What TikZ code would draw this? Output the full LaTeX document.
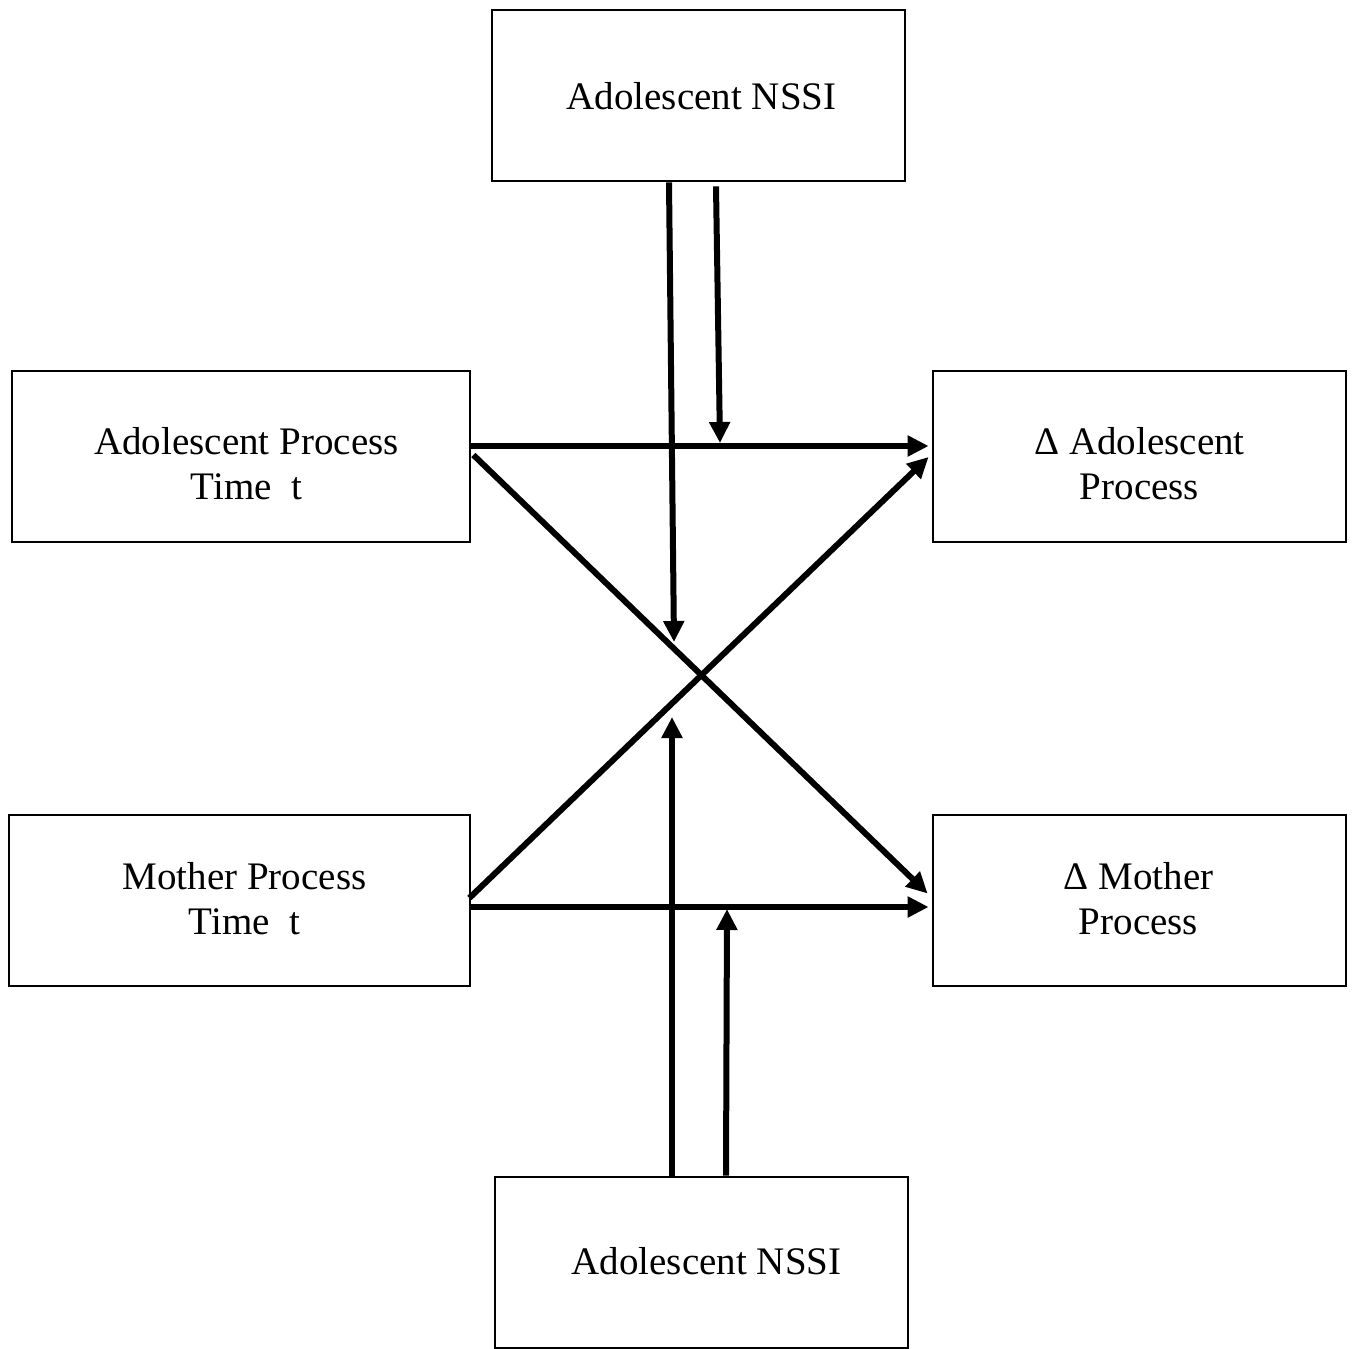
\documentclass[tikz,border=0pt]{standalone}
\usepackage{fontspec}
\setmainfont{Liberation Serif}
\usetikzlibrary{arrows.meta,calc}
\tikzset{
  boxnode/.style={draw=black, line width=2.8pt, rectangle, inner sep=0pt, minimum height=171pt},
  txt/.style={inner sep=0pt, align=center, font=\fontsize{39}{45}\selectfont},
  arr/.style={line width=6pt, -{Triangle[length=21pt,width=20pt]}},
}
\begin{document}
\begin{tikzpicture}[x=1pt,y=-1pt]
\useasboundingbox (0,0) rectangle (1353,1349);
\node[boxnode, minimum width=413pt] (nssiT) at (698.5,95.5) {};
\node[boxnode, minimum width=458pt] (adoT) at (241,456.5) {};
\node[boxnode, minimum width=413pt] (dAdo) at (1139.5,456.5) {};
\node[boxnode, minimum width=461pt] (momT) at (239.5,900.5) {};
\node[boxnode, minimum width=413pt] (dMom) at (1139.5,900.5) {};
\node[boxnode, minimum width=413pt] (nssiB) at (701.5,1262.5) {};
% texts
\node[txt] (nssiTtext) at ($(nssiT.center)+(3,1)$) {Adolescent NSSI};
\node[txt] (adoTtext) at ($(adoT.center)+(5.5,7)$) {Adolescent Process\\Time\ \ t};
\node[txt] (dAdotext) at ($(dAdo.center)+(0,7)$) {Δ Adolescent\\Process};
\node[txt] (momTtext) at ($(momT.center)+(5,-2)$) {Mother Process\\Time\ \ t};
\node[txt] (dMomtext) at ($(dMom.center)+(-1,-2)$) {Δ Mother\\Process};
\node[txt] (nssiBtext) at ($(nssiB.center)+(5,-1)$) {Adolescent NSSI};
% target points
\coordinate (t1) at (674,642);
\coordinate (t2) at (720,443);
\coordinate (t3) at (672,717);
\coordinate (t4) at (727,909);
% horizontal arrows
\draw[arr] ($(adoT.east)+(0,-10.5)$) -- ($(dAdo.west)+(-3,-10.5)$);
\draw[arr] ($(momT.east)+(0,6.5)$) -- ($(dMom.west)+(-3,6.5)$);
% diagonals
\draw[arr] ($(adoT.east)+(2,-1.5)$) -- ($(dMom.west)+(-4,-7)$);
\draw[arr] ($(momT.east)+(-2,-2.5)$) -- ($(dAdo.west)+(-3,0.5)$);
% moderator arrows
\draw[arr] ($(nssiT.south)+(-29.5,0)$) -- (t1);
\draw[arr] ($(nssiT.south)+(17.5,4)$) -- (t2);
\draw[arr] ($(nssiB.north)+(-29.5,0)$) -- (t3);
\draw[arr] ($(nssiB.north)+(24.5,0)$) -- (t4);
\end{tikzpicture}
\end{document}
